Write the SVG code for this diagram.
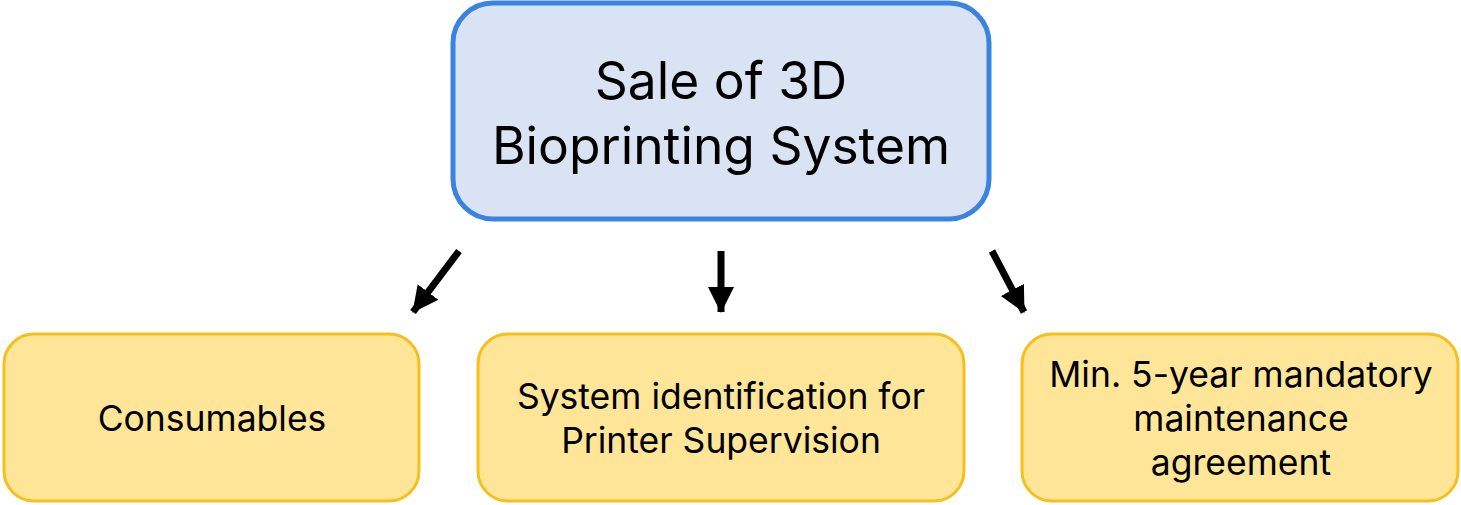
<svg xmlns="http://www.w3.org/2000/svg" width="1461" height="505" viewBox="0 0 1461 505">
  <style>
    .main { fill: #DAE3F3; stroke: #3A84E0; stroke-width: 5; }
    .sub { fill: #FFE597; stroke: #F7BF1C; stroke-width: 3; }
    .t { font-family: Inter, "Open Sans", sans-serif; fill: #000; text-anchor: middle; }
    .tm { font-size: 51.5px; }
    .ts { font-size: 35.5px; }
    .arr { stroke: #000; stroke-width: 7; fill: none; marker-end: url(#head); }
  </style>
  <defs>
    <marker id="head" markerUnits="userSpaceOnUse" markerWidth="28" markerHeight="28" viewBox="0 0 28 28" refX="25" refY="14" orient="auto">
      <path d="M0,1 L26,14 L0,27 Z" fill="#000"/>
    </marker>
  </defs>

  <rect width="1461" height="505" fill="#fff"/>

  <g id="root">
    <rect class="main" x="453" y="3" width="536" height="216" rx="40"/>
    <text class="t tm" x="721" y="99">Sale of 3D</text>
    <text class="t tm" x="721" y="164">Bioprinting System</text>
  </g>

  <g id="consumables">
    <rect class="sub" x="4" y="334" width="415" height="167" rx="30"/>
    <text class="t ts" x="212" y="431">Consumables</text>
  </g>

  <g id="identification">
    <rect class="sub" x="478" y="334" width="486" height="167" rx="30"/>
    <text class="t ts" x="721" y="409">System identification for</text>
    <text class="t ts" x="721" y="453">Printer Supervision</text>
  </g>

  <g id="maintenance">
    <rect class="sub" x="1022" y="334" width="436" height="167" rx="30"/>
    <text class="t ts" x="1241" y="387">Min. 5-year mandatory</text>
    <text class="t ts" x="1241" y="431">maintenance</text>
    <text class="t ts" x="1241" y="475">agreement</text>
  </g>

  <g id="connectors">
    <path class="arr" d="M459,251 L413,312"/>
    <path class="arr" d="M721,251 L721,312"/>
    <path class="arr" d="M992,251 L1024,312"/>
  </g>
</svg>
